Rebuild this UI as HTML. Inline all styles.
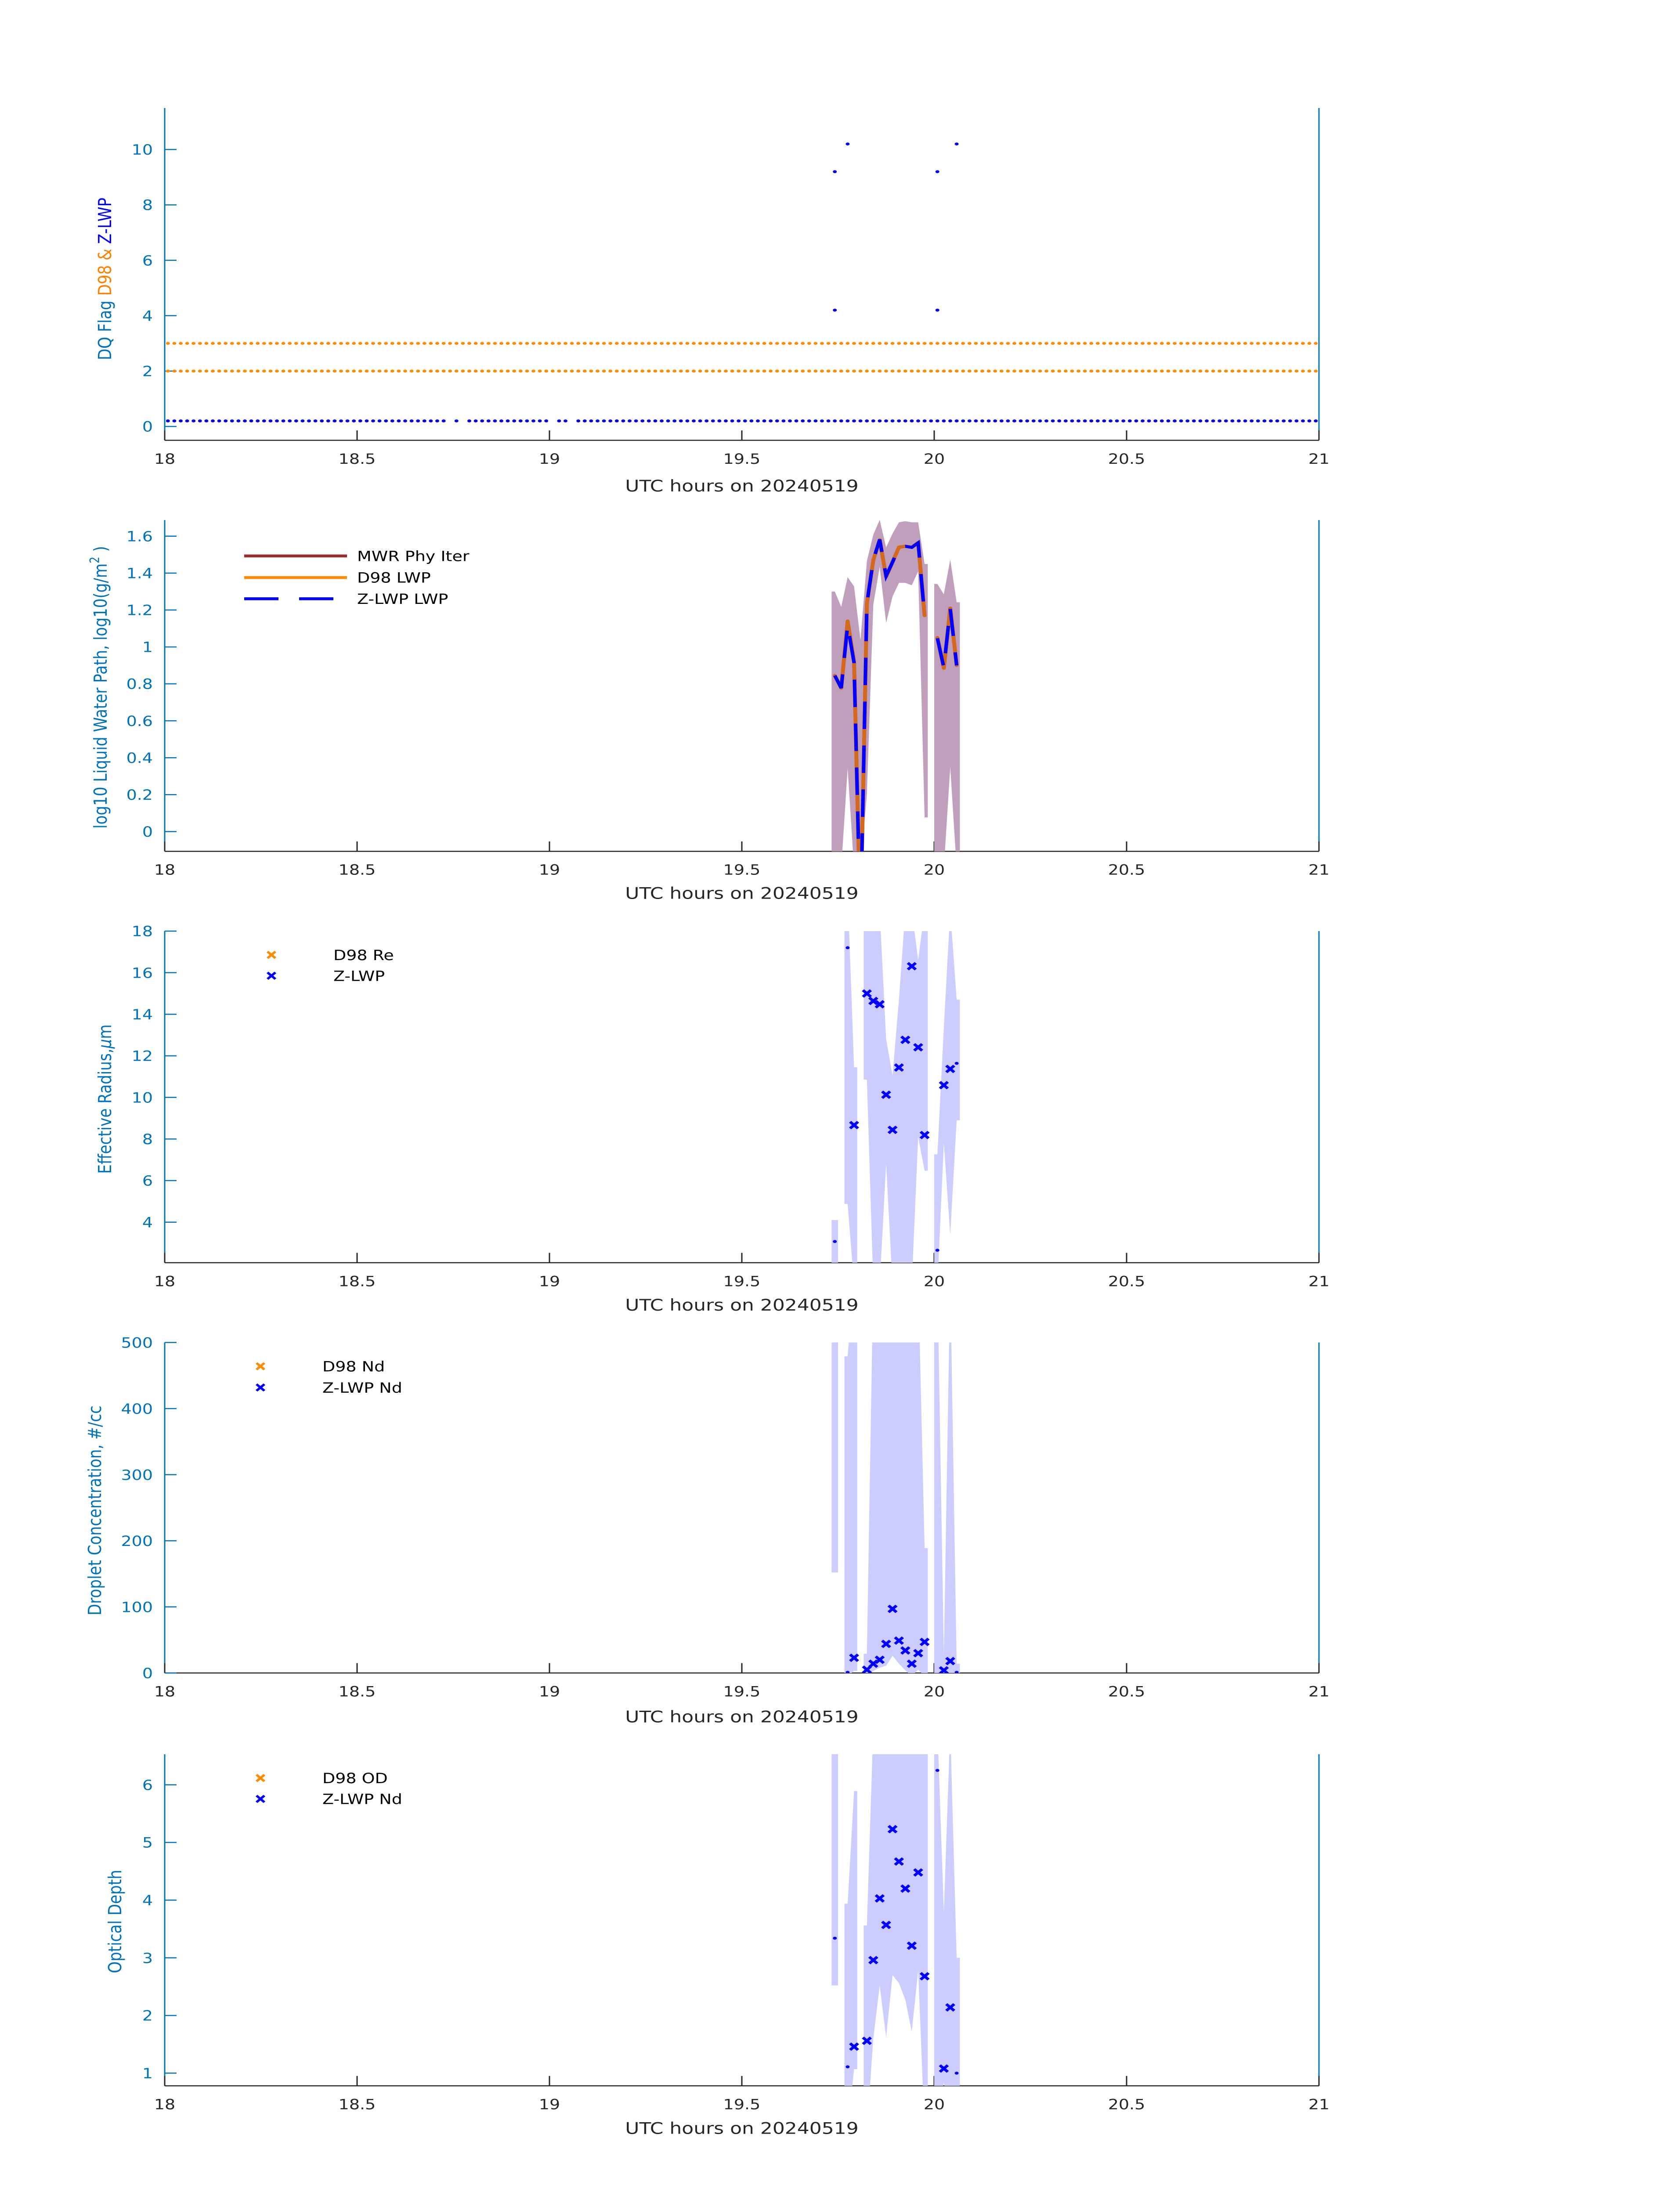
<!DOCTYPE html>
<html><head><meta charset="utf-8"><style>
html,body{margin:0;padding:0;background:#fff;width:100%;height:100%;overflow:hidden;}
svg{display:block;position:absolute;left:0;top:0;width:100vw;height:100vh;font-family:"DejaVu Sans","Liberation Sans",sans-serif;}
</style></head><body>
<svg id="fig" xmlns="http://www.w3.org/2000/svg" viewBox="0 0 3825 6000" preserveAspectRatio="none">
<rect width="3825" height="6000" fill="#fff"/>
</svg>
<script>
// ---------- DATA ----------
const xTicks = [18, 18.5, 19, 19.5, 20, 20.5, 21];
const xTickLabels = ["18", "18.5", "19", "19.5", "20", "20.5", "21"];

// Panel 1: DQ flags (one sample per minute from 18:00:30)
const flagZlwpBase = [
0.2,0.2,0.2,0.2,0.2,0.2,0.2,0.2,0.2,0.2,0.2,0.2,0.2,0.2,0.2,0.2,0.2,0.2,0.2,0.2,
0.2,0.2,0.2,0.2,0.2,0.2,0.2,0.2,0.2,0.2,0.2,0.2,0.2,0.2,0.2,0.2,0.2,0.2,0.2,0.2,
0.2,0.2,0.2,0.2,null,0.2,null,0.2,0.2,0.2,0.2,0.2,0.2,0.2,0.2,0.2,0.2,0.2,0.2,0.2,
null,0.2,0.2,null,0.2,0.2,0.2,0.2,0.2,0.2,0.2,0.2,0.2,0.2,0.2,0.2,0.2,0.2,0.2,0.2,
0.2,0.2,0.2,0.2,0.2,0.2,0.2,0.2,0.2,0.2,0.2,0.2,0.2,0.2,0.2,0.2,0.2,0.2,0.2,0.2,
0.2,0.2,0.2,0.2,0.2,0.2,0.2,0.2,0.2,0.2,0.2,0.2,0.2,0.2,0.2,0.2,0.2,0.2,0.2,0.2,
0.2,0.2,0.2,0.2,0.2,0.2,0.2,0.2,0.2,0.2,0.2,0.2,0.2,0.2,0.2,0.2,0.2,0.2,0.2,0.2,
0.2,0.2,0.2,0.2,0.2,0.2,0.2,0.2,0.2,0.2,0.2,0.2,0.2,0.2,0.2,0.2,0.2,0.2,0.2,0.2,
0.2,0.2,0.2,0.2,0.2,0.2,0.2,0.2,0.2,0.2,0.2,0.2,0.2,0.2,0.2,0.2,0.2,0.2,0.2,0.2];
const flagD98Low = [
2,2,2,2,2,2,2,2,2,2,2,2,2,2,2,2,2,2,2,2, 2,2,2,2,2,2,2,2,2,2,2,2,2,2,2,2,2,2,2,2,
2,2,2,2,2,2,2,2,2,2,2,2,2,2,2,2,2,2,2,2, 2,2,2,2,2,2,2,2,2,2,2,2,2,2,2,2,2,2,2,2,
2,2,2,2,2,2,2,2,2,2,2,2,2,2,2,2,2,2,2,2, 2,2,2,2,2,2,2,2,2,2,2,2,2,2,2,2,2,2,2,2,
2,2,2,2,2,2,2,2,2,2,2,2,2,2,2,2,2,2,2,2, 2,2,2,2,2,2,2,2,2,2,2,2,2,2,2,2,2,2,2,2,
2,2,2,2,2,2,2,2,2,2,2,2,2,2,2,2,2,2,2,2];
const flagD98High = [
3,3,3,3,3,3,3,3,3,3,3,3,3,3,3,3,3,3,3,3, 3,3,3,3,3,3,3,3,3,3,3,3,3,3,3,3,3,3,3,3,
3,3,3,3,3,3,3,3,3,3,3,3,3,3,3,3,3,3,3,3, 3,3,3,3,3,3,3,3,3,3,3,3,3,3,3,3,3,3,3,3,
3,3,3,3,3,3,3,3,3,3,3,3,3,3,3,3,3,3,3,3, 3,3,3,3,3,3,3,3,3,3,3,3,3,3,3,3,3,3,3,3,
3,3,3,3,3,3,3,3,3,3,3,3,3,3,3,3,3,3,3,3, 3,3,3,3,3,3,3,3,3,3,3,3,3,3,3,3,3,3,3,3,
3,3,3,3,3,3,3,3,3,3,3,3,3,3,3,3,3,3,3,3];
const flagHiTimes = [19.7417, 19.7417, 19.775, 20.0083, 20.0083, 20.0583];
const flagHiValues = [9.2, 4.2, 10.2, 9.2, 4.2, 10.2];

// Panel 2: LWP (one per minute, 19:44:30 .. 20:03:30)
const lwpTimes = [19.7417,19.7583,19.775,19.7917,19.8083,19.825,19.8417,19.8583,19.875,19.8917,19.9083,19.925,19.9417,19.9583,19.975,19.9917,20.0083,20.025,20.0417,20.0583];
const lwpZ   = [0.845,0.777,1.118,0.914,-0.5,1.235,1.471,1.582,1.384,1.459,1.539,1.545,1.539,1.564,1.168,null,1.047,0.889,1.205,0.90];
const lwpD98 = [0.845,0.777,1.14,0.92,-0.5,1.235,1.47,1.58,1.38,1.46,1.54,1.545,1.54,1.565,1.17,null,1.05,0.885,1.21,0.90];
const lwpMwrUp = [1.30,1.217,1.378,1.328,1.036,1.465,1.608,1.688,1.539,1.614,1.675,1.681,1.675,1.675,1.449,null,1.341,1.285,1.473,1.242];
const lwpMwrLo = [-0.2,-0.2,0.343,-0.2,-0.2,0.2,1.229,1.433,1.13,1.273,1.347,1.347,1.334,1.41,0.077,null,-0.2,-0.2,0.35,-0.2];

// Retrieval times (panels 3-5)
const retTimes = [19.7417,19.775,19.7917,19.825,19.8417,19.8583,19.875,19.8917,19.9083,19.925,19.9417,19.9583,19.975,20.0083,20.025,20.0417,20.0583];
const retMarker = ["dot","dot","x","x","x","x","x","x","x","x","x","x","x","dot","x","x","dot"];

const reVals = [3.07,17.2,8.67,15.0,14.64,14.48,10.13,8.44,11.44,12.77,16.31,12.41,8.19,2.65,10.59,11.37,11.64];
const reUp   = [4.1,20,11.45,19,19,19,12.8,11.06,14.7,19,19,16.6,19,7.26,13.37,19,14.7];
const reLo   = [1,4.88,1,10.86,1,1,6.8,1,1,1,1,8.1,6.47,1,7.8,3.4,8.9];

const ndVals = [null,1,23,5,14,20,44,97,49,34,14,30,47,null,4,18,1];
const ndUp   = [600,479,600,29,600,600,600,600,600,600,600,600,189,600,28,600,14];
const ndLo   = [152,-5,3,-5,3,8,11,26,14,4,-5,5,-5,-5,-5,-5,-5];

const odVals = [3.34,1.11,1.46,1.56,2.96,4.03,3.57,5.23,4.67,4.2,3.21,4.48,2.68,6.25,1.08,2.14,1.0];
const odUp   = [7,3.94,5.89,3.56,7,7,7,7,7,7,7,7,7,7,3.79,7,3.0];
const odLo   = [2.52,0,1.07,0,1.6,2.52,1.62,2.7,2.56,2.27,1.72,2.78,0,0,0.85,0,0.78];

// ---------- DRAWING ----------
const NS = "http://www.w3.org/2000/svg";
const svg = document.getElementById("fig");
const XL = 375, XR = 3003;
const BLUEAX = "#0072BD", DARK = "#262626";
function el(tag, attrs, parent) {
  const e = document.createElementNS(NS, tag);
  for (const k in attrs) e.setAttribute(k, attrs[k]);
  (parent || svg).appendChild(e);
  return e;
}
function xScale(h) { return XL + (h - 18) / 3 * (XR - XL); }
function makeY(p) { return v => p.bottom - (v - p.ymin) / (p.ymax - p.ymin) * (p.bottom - p.top); }

const panels = [
  {id:"dq", top:295, bottom:1203, ymin:-0.5, ymax:11.5, ticks:[0,2,4,6,8,10], tl:["0","2","4","6","8","10"], xlab:1327},
  {id:"lwp", top:1421, bottom:2326, ymin:-0.107, ymax:1.687, ticks:[0,0.2,0.4,0.6,0.8,1,1.2,1.4,1.6], tl:["0","0.2","0.4","0.6","0.8","1","1.2","1.4","1.6"], xlab:2440},
  {id:"re", top:2544, bottom:3450, ymin:2.05, ymax:18, ticks:[4,6,8,10,12,14,16,18], tl:["4","6","8","10","12","14","16","18"], xlab:3565},
  {id:"nd", top:3668, bottom:4571, ymin:0, ymax:500, ticks:[0,100,200,300,400,500], tl:["0","100","200","300","400","500"], xlab:4690},
  {id:"od", top:4793, bottom:5699, ymin:0.78, ymax:6.53, ticks:[1,2,3,4,5,6], tl:["1","2","3","4","5","6"], xlab:5814}
];

const defs = el("defs", {});
panels.forEach(p => {
  const cp = el("clipPath", {id: "clip-" + p.id}, defs);
  el("rect", {x: XL, y: p.top, width: XR - XL, height: p.bottom - p.top}, cp);
});

function drawAxes(p) {
  const g = el("g", {});
  
  
  const y = makeY(p);
  el("line", {x1:XL, y1:p.top, x2:XL, y2:p.bottom, stroke:BLUEAX, "stroke-width":3}, g);
  el("line", {x1:XR, y1:p.top, x2:XR, y2:p.bottom, stroke:BLUEAX, "stroke-width":3}, g);
  el("line", {x1:XL, y1:p.bottom, x2:XR, y2:p.bottom, stroke:DARK, "stroke-width":3}, g);
  p.ticks.forEach((t, i) => {
    const yy = y(t);
    el("line", {x1:XL, y1:yy, x2:XL + 27, y2:yy, stroke:BLUEAX, "stroke-width":3}, g);
    const tx = el("text", {x:348, y:yy + 14, "text-anchor":"end", "font-size":38, fill:BLUEAX}, g);
    tx.textContent = p.tl[i];
    
    
  });
  xTicks.forEach((t, i) => {
    const xx = xScale(t);
    el("line", {x1:xx, y1:p.bottom, x2:xx, y2:p.bottom - 27, stroke:DARK, "stroke-width":3}, g);
    const tx = el("text", {x:xx, y:p.bottom + 64, "text-anchor":"middle", "font-size":38, fill:DARK}, g);
    tx.textContent = xTickLabels[i];
    
    
  });
  const xl = el("text", {x:1689, y:p.xlab + 16, "text-anchor":"middle", "font-size":44, fill:DARK}, g);
  xl.textContent = "UTC hours on 20240519";
  
  
}
panels.forEach(drawAxes);

function ylabel(cx, cy, parts, name) {
  const t = el("text", {x:cx, y:cy, "text-anchor":"middle", "font-size":41, transform:`rotate(-90 ${cx} ${cy})`, "dominant-baseline":"middle"});
  parts.forEach(pt => {
    const s = el("tspan", pt.attrs || {}, t);
    s.setAttribute("fill", pt.c || BLUEAX);
    s.textContent = pt.t;
  });
  
  
}
ylabel(241, 762, [{t:"DQ Flag  "}, {t:"D98 &  ", c:"#FF8000"}, {t:"Z-LWP", c:"#0000FF"}], "y-axis-title-dq");
ylabel(231, 1878, [{t:"log10 Liquid Water Path, log10(g/m"}, {t:"2", attrs:{"font-size":29, dy:-14}}, {t:" )", attrs:{dy:14}}], "y-axis-title-lwp");
ylabel(241, 3003, [{t:"Effective Radius,"}, {t:"μ", attrs:{"font-style":"italic"}}, {t:"m"}], "y-axis-title-re");
ylabel(218, 4127, [{t:"Droplet Concentration, #/cc"}], "y-axis-title-nd");
ylabel(264, 5250, [{t:"Optical Depth"}], "y-axis-title-od");

// ----- panel 1 -----
(function () {
  const p = panels[0], y = makeY(p);
  const g = el("g", {"clip-path": "url(#clip-dq)"});
  
  
  const n = flagZlwpBase.length;
  for (let i = 0; i < n; i++) {
    const t = 18 + (i + 0.5) / 60;
    [[flagD98Low[i], "#FF8C00"], [flagD98High[i], "#FF8C00"], [flagZlwpBase[i], "#0000FF"]].forEach(([v, c]) => {
      if (v === null || v === undefined) return;
      const d = el("ellipse", {cx:xScale(t), cy:y(v), rx:4.5, ry:4, fill:c}, g);
      
      
    });
  }
  flagHiTimes.forEach((t, i) => {
    const d = el("ellipse", {cx:xScale(t), cy:y(flagHiValues[i]), rx:4.5, ry:4, fill:"#0000FF"}, g);
    
    
  });
})();

// band helper: runs split when gap > 1.5 min
function band(times, up, lo, y, fill, g, name) {
  const h = 0.5 / 60;
  let runs = [], cur = [];
  times.forEach((t, i) => {
    if (up[i] === null || lo[i] === null) { if (cur.length) runs.push(cur); cur = []; return; }
    if (cur.length && t - times[cur[cur.length - 1]] > 1.5 / 60) { runs.push(cur); cur = []; }
    cur.push(i);
  });
  if (cur.length) runs.push(cur);
  runs.forEach(r => {
    const pts = [];
    const f = r[0], l = r[r.length - 1];
    pts.push([xScale(times[f] - h), y(up[f])]);
    r.forEach(i => pts.push([xScale(times[i]), y(up[i])]));
    pts.push([xScale(times[l] + h), y(up[l])]);
    pts.push([xScale(times[l] + h), y(lo[l])]);
    r.slice().reverse().forEach(i => pts.push([xScale(times[i]), y(lo[i])]));
    pts.push([xScale(times[f] - h), y(lo[f])]);
    const pg = el("polygon", {points: pts.map(q => q[0].toFixed(1) + "," + q[1].toFixed(1)).join(" "), fill: fill}, g);
    
    
  });
}
function linePath(times, vals, y) {
  let d = "", pen = false;
  times.forEach((t, i) => {
    const v = vals[i];
    if (v === null) { pen = false; return; }
    d += (pen ? "L" : "M") + xScale(t).toFixed(1) + "," + y(v).toFixed(1);
    pen = true;
  });
  return d;
}

// ----- panel 2 -----
(function () {
  const p = panels[1], y = makeY(p);
  const g = el("g", {"clip-path": "url(#clip-lwp)"});
  
  
  band(lwpTimes, lwpMwrUp, lwpMwrLo, y, "#C09FBD", g, "mwr-uncertainty-band");
  const o = el("path", {d: linePath(lwpTimes, lwpD98, y), fill:"none", stroke:"#D2691E", "stroke-width":9, "stroke-linejoin":"round", "stroke-linecap":"round"}, g);
  
  
  const b = el("path", {d: linePath(lwpTimes, lwpZ, y), fill:"none", stroke:"#0000FF", "stroke-width":8, "stroke-dasharray":"75 45"}, g);
  
  
  const lg = el("g", {});
  
  
  [["MWR Phy Iter", "#A2282A", null, 1519], ["D98 LWP", "#FF8C00", null, 1578], ["Z-LWP LWP", "#0000FF", "78 47", 1636]].forEach(([txt, c, da, yy]) => {
    const a = {x1:556, y1:yy, x2:790, y2:yy, stroke:c, "stroke-width":8};
    if (da) a["stroke-dasharray"] = da;
    el("line", a, lg);
    const t = el("text", {x:813, y:yy + 14, "font-size":38, fill:"#000"}, lg);
    t.textContent = txt;
    
    
  });
})();

function crossMark(cx, cy, c, g) {
  const s = 9;
  return el("path", {d:`M${cx-s},${cy-s}L${cx+s},${cy+s}M${cx-s},${cy+s}L${cx+s},${cy-s}`, stroke:c, "stroke-width":7, fill:"none"}, g);
}
function retrievalPanel(p, vals, up, lo, name) {
  const y = makeY(p);
  const g = el("g", {"clip-path": `url(#clip-${p.id})`});
  
  
  band(retTimes, up, lo, y, "#CCCCFF", g, name + "-uncertainty-band");
  retTimes.forEach((t, i) => {
    const v = vals[i];
    if (v === null) return;
    let m;
    if (retMarker[i] === "dot") m = el("ellipse", {cx:xScale(t), cy:y(v), rx:4.5, ry:4, fill:"#0000FF"}, g);
    else m = crossMark(xScale(t), y(v), "#0000FF", g);
    
    
  });
}
function markerLegend(mx, tx, ys, labels, name) {
  const lg = el("g", {});
  
  
  ["#FF8C00", "#0000FF"].forEach((c, i) => {
    const m = crossMark(mx, ys[i], c, lg);
    m.setAttribute('stroke-width', 6);
    const t = el("text", {x:tx, y:ys[i] + 14, "font-size":38, fill:"#000"}, lg);
    t.textContent = labels[i];
    
    
  });
}
retrievalPanel(panels[2], reVals, reUp, reLo, "re");
markerLegend(618, 759, [2609, 2666], ["D98 Re", "Z-LWP"], "re-legend");
retrievalPanel(panels[3], ndVals, ndUp, ndLo, "nd");
markerLegend(593, 734, [3733, 3791], ["D98 Nd", "Z-LWP Nd"], "nd-legend");
retrievalPanel(panels[4], odVals, odUp, odLo, "od");
markerLegend(593, 734, [4858, 4915], ["D98 OD", "Z-LWP Nd"], "od-legend");
</script>
</body></html>
